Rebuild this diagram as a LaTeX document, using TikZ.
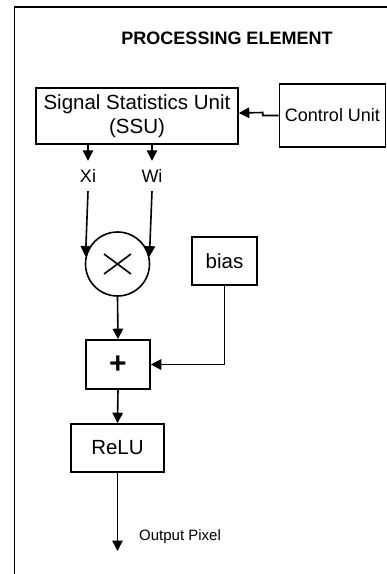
\documentclass[tikz,border=0pt]{standalone}
\usepackage{fontspec}
\setmainfont{Liberation Sans}
\usetikzlibrary{arrows.meta}
\tikzset{
  blk/.style={draw, line width=1.6pt, inner sep=0pt, align=center},
  arr/.style={line width=1.6pt, -{Triangle[length=10.5pt,width=10.5pt]}},
  lbl/.style={inner sep=0pt},
}
\begin{document}
\begin{tikzpicture}[x=1pt, y=-1pt]
\useasboundingbox (0,0) rectangle (387,574);
% outer frame
\draw[line width=1.6pt] (14.5,574) -- (14.5,7) -- (387,7);
\node[lbl, font=\bfseries\fontsize{18}{20}\selectfont] (title) at (227,38) {PROCESSING ELEMENT};
\node[blk, minimum width=202pt, minimum height=56pt, font=\fontsize{20.5}{24}\selectfont] (ssu) at (137,116) {Signal Statistics Unit\\(SSU)};
\node[blk, minimum width=106pt, minimum height=63pt, font=\fontsize{18}{20}\selectfont] (ctrl) at (332.5,115.5) {Control Unit};
\draw[arr] (ctrl.west) -- ++(-16,0) -- ++(0,-3) -- ([yshift=3pt]ssu.east);
\node[lbl, minimum height=30pt, font=\fontsize{18}{20}\selectfont] (xi) at (88,176) {Xi};
\node[lbl, minimum height=30pt, font=\fontsize{18}{20}\selectfont] (wi) at (152,176) {Wi};
\draw[arr] (ssu.south -| xi.north) -- (xi.north);
\draw[arr] (ssu.south -| wi.north) -- (wi.north);
\node[draw, circle, line width=1.6pt, minimum size=64pt, inner sep=0pt,
  path picture={\draw[line width=1.6pt] ([shift={(-13.5pt,-10pt)}]path picture bounding box.center) -- ([shift={(13.5pt,10pt)}]path picture bounding box.center);
                \draw[line width=1.6pt] ([shift={(-13.5pt,10pt)}]path picture bounding box.center) -- ([shift={(13.5pt,-10pt)}]path picture bounding box.center);}] (mul) at (117.5,264) {};
\draw[arr] (xi.south) -- (mul.167);
\draw[arr] (wi.south) -- (mul.13);
\node[blk, minimum width=65pt, minimum height=48pt, font=\fontsize{20.5}{24}\selectfont] (bias) at (224.5,261) {bias};
\node[blk, minimum width=64pt, minimum height=49pt, font=\bfseries\fontsize{30}{30}\selectfont] (plus) at (118,364.5) {+};
\draw[arr] (mul.south) -- (plus.north);
\draw[arr] (bias.south) |- (plus.east);
\node[blk, minimum width=93pt, minimum height=48pt, font=\fontsize{20.5}{24}\selectfont] (relu) at (117.5,448) {ReLU};
\draw[arr] (plus.south) -- (relu.north);
\coordinate (out) at (117.5,551);
\draw[arr] (relu.south) -- (out);
\node[lbl, anchor=west, font=\fontsize{15}{17}\selectfont] (outlbl) at (139,537) {Output Pixel};
\end{tikzpicture}
\end{document}
